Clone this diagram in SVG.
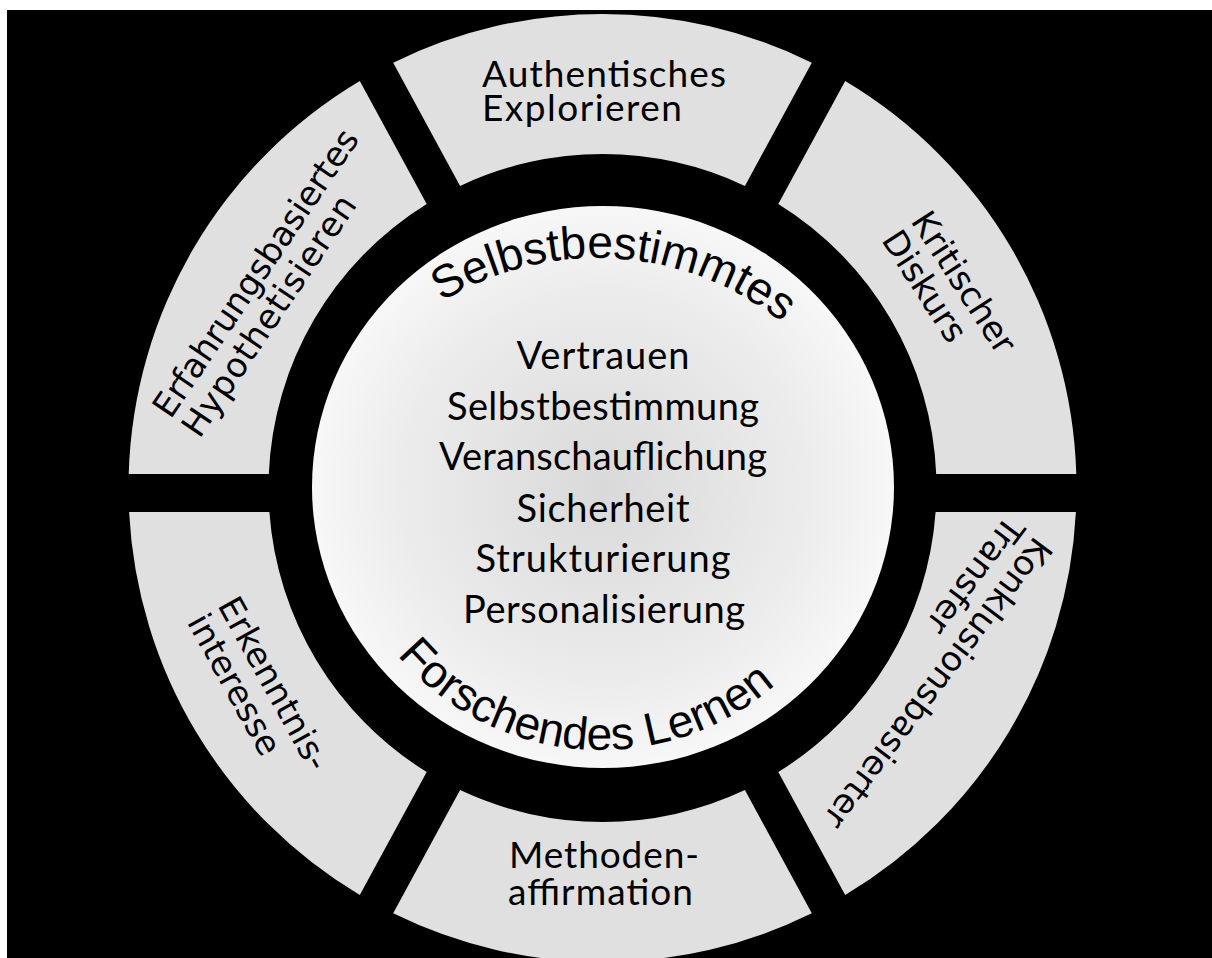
<svg xmlns="http://www.w3.org/2000/svg" width="1212" height="958" viewBox="0 0 1212 958">
  <defs>
    <radialGradient id="innerGrad" cx="50%" cy="50%" r="50%">
      <stop offset="0" stop-color="#d9d9d9"/>
      <stop offset="0.7" stop-color="#ececec"/>
      <stop offset="1" stop-color="#f7f7f7"/>
    </radialGradient>
    <path id="arcTop" d="M 300.55 536.87 A 297 297 0 0 1 893.45 573.13"/>
    <path id="arcBottom" d="M 335.82 463.13 A 266 266 0 0 0 866.18 504.87"/>
    <style>
      .seg { fill: #e0e0e0; }
      .ring { font-family: "DejaVu Sans", "Open Sans", sans-serif; font-size: 34px; fill: #000; }
      .gill { font-family: Lato, "Open Sans", sans-serif; fill: #000; }
      .arc { font-family: "Liberation Sans", Arial, sans-serif; font-size: 46px; fill: #000; }
    </style>
  </defs>

  <rect x="0" y="0" width="1212" height="958" fill="#ffffff"/>
  <rect x="7" y="10" width="1205" height="948" fill="#000000"/>

  <g id="node-authentisches">
    <path class="seg" d="M 393.2 62.7 A 474 474 0 0 1 811.8 62.7 L 744.9 185.9 A 334 334 0 0 0 460.1 185.9 Z"/>
    <text class="gill" font-size="37" x="482" y="87" textLength="244">Authentisches</text>
    <text class="gill" font-size="37" x="482" y="121" textLength="200">Explorieren</text>
  </g>

  <g id="node-kritischer">
    <path class="seg" d="M 845.2 80.9 A 474 474 0 0 1 1076.3 474 L 936.2 474 A 334 334 0 0 0 778.3 204 Z"/>
    <g transform="translate(910 221) rotate(57)">
      <text class="ring" x="0" y="0">Kritischer</text>
      <text class="ring" x="0" y="35">Diskurs</text>
    </g>
  </g>

  <g id="node-konklusion">
    <path class="seg" d="M 1075.9 512 A 474 474 0 0 1 845.2 895.1 L 778.3 772 A 334 334 0 0 0 935.6 512 Z"/>
    <g transform="translate(1035 535) rotate(127)">
      <text class="ring" x="0" y="0">Konklusionsbasierter</text>
      <text class="ring" x="0" y="35">Transfer</text>
    </g>
  </g>

  <g id="node-methoden">
    <path class="seg" d="M 811.8 913.3 A 474 474 0 0 1 393.2 913.3 L 460.1 790.1 A 334 334 0 0 0 744.9 790.1 Z"/>
    <text class="gill" font-size="37" x="509" y="868" textLength="190">Methoden-</text>
    <text class="gill" font-size="37" x="508" y="905" textLength="185">affirmation</text>
  </g>

  <g id="node-erkenntnis">
    <path class="seg" d="M 359.8 895.1 A 474 474 0 0 1 129.1 512 L 269.4 512 A 334 334 0 0 0 426.7 772 Z"/>
    <g transform="translate(217 605) rotate(61)">
      <text class="ring" x="0" y="0">Erkenntnis-</text>
      <text class="ring" x="0" y="35">interesse</text>
    </g>
  </g>

  <g id="node-erfahrung">
    <path class="seg" d="M 128.7 474 A 474 474 0 0 1 359.8 80.9 L 426.7 204 A 334 334 0 0 0 268.8 474 Z"/>
    <g transform="translate(170.5 420) rotate(-56)">
      <text class="ring" x="0" y="0" textLength="339">Erfahrungsbasiertes</text>
      <text class="ring" x="0" y="35" textLength="283">Hypothetisieren</text>
    </g>
  </g>

  <g id="node-center">
    <ellipse cx="603" cy="487" rx="291" ry="281" fill="url(#innerGrad)"/>
    <text class="arc"><textPath href="#arcTop" startOffset="50%" text-anchor="middle">Selbstbestimmtes</textPath></text>
    <text class="arc"><textPath href="#arcBottom" startOffset="50%" text-anchor="middle">Forschendes Lernen</textPath></text>
    <g class="gill" font-size="38" text-anchor="middle">
      <text x="603" y="369" textLength="173">Vertrauen</text>
      <text x="603" y="420" textLength="312">Selbstbestimmung</text>
      <text x="603" y="470" textLength="328">Veranschauflichung</text>
      <text x="603" y="522" textLength="173">Sicherheit</text>
      <text x="603" y="572" textLength="255">Strukturierung</text>
      <text x="604" y="623" textLength="282">Personalisierung</text>
    </g>
  </g>

  <g id="connectors"/>
</svg>
